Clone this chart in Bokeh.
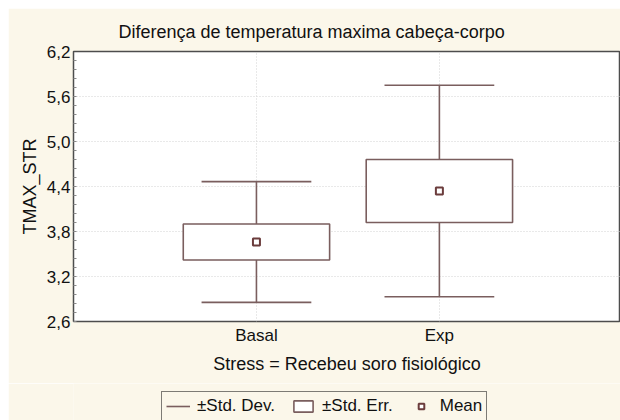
import numpy as np
from bokeh.plotting import figure
from bokeh.layouts import column
from bokeh.models import (Range1d, FixedTicker, CustomJSTickFormatter, Legend,
                          LegendItem, ColumnDataSource)
from bokeh.embed import file_html
from bokeh.resources import INLINE

# ---- data ----
groups = ["Basal", "Exp"]
means = [3.66, 4.34]
std_err = [0.24, 0.42]
std_dev = [0.805, 1.41]
y_ticks = [2.6, 3.2, 3.8, 4.4, 5.0, 5.6, 6.2]

title_text = "Diferença de temperatura maxima cabeça-corpo"
x_title = "Stress = Recebeu soro fisiológico"
y_title = "TMAX_STR"
legend_labels = ["±Std. Dev.", "±Std. Err.", "Mean"]

# ---- styling ----
FONT = "Liberation Sans"
LINE = "#7a5e5e"
MEAN_C = "#6b3c3c"
CREAM = "#fbf7ea"

xs = np.arange(1, len(groups) + 1)
m = np.array(means)
se = np.array(std_err)
sd = np.array(std_dev)
box_hw = 0.4
cap_hw = 0.3

src = ColumnDataSource(dict(
    x=xs, mean=m,
    se_lo=m - se, se_hi=m + se,
    sd_lo=m - sd, sd_hi=m + sd,
    left=xs - box_hw, right=xs + box_hw,
    cl=xs - cap_hw, cr=xs + cap_hw,
))

p = figure(width=612, height=375, output_backend="svg", toolbar_location=None,
           x_range=Range1d(0, 2.99), y_range=Range1d(2.6, 6.2),
           min_border_left=65, min_border_right=0, min_border_top=43,
           min_border_bottom=62,
           background_fill_color="white", border_fill_color=CREAM)
p.margin = (8, 0, 0, 8)

# title
p.title.text = title_text
p.title.align = "left"
p.title.offset = 45
p.title.standoff = 19
p.title.text_font = FONT
p.title.text_font_size = "18px"
p.title.text_font_style = "normal"
p.title.text_color = "#111111"

# frame
p.outline_line_color = "#4d4d4d"
p.outline_line_width = 1.5

# stems, caps, boxes, means
p.segment(x0="x", y0="sd_lo", x1="x", y1="sd_hi", source=src,
          line_color=LINE, line_width=1.6)
p.segment(x0="cl", y0="sd_hi", x1="cr", y1="sd_hi", source=src,
          line_color=LINE, line_width=1.6)
p.segment(x0="cl", y0="sd_lo", x1="cr", y1="sd_lo", source=src,
          line_color=LINE, line_width=1.6)
p.quad(left="left", right="right", bottom="se_lo", top="se_hi", source=src,
       fill_color="white", line_color=LINE, line_width=1.6)
p.scatter(x="x", y="mean", source=src, marker="square", size=7,
          fill_color="white", line_color=MEAN_C, line_width=2)

# axes
p.xaxis.ticker = FixedTicker(ticks=[int(v) for v in xs])
p.xaxis.major_label_overrides = {int(v): g for v, g in zip(xs, groups)}
p.yaxis.ticker = FixedTicker(ticks=y_ticks,
                             minor_ticks=list(np.arange(2.6, 6.21, 0.12)))
p.yaxis.formatter = CustomJSTickFormatter(code="return tick.toFixed(1).replace('.', ',');")

for ax in (p.xaxis[0], p.yaxis[0]):
    ax.axis_line_color = None
    ax.major_tick_out = 0
    ax.major_tick_in = 0
    ax.major_label_text_font = FONT
    ax.major_label_text_font_size = "17px"
    ax.major_label_text_color = "#111111"
    ax.axis_label_text_font = FONT
    ax.axis_label_text_font_size = "18px"
    ax.axis_label_text_font_style = "normal"
    ax.axis_label_text_color = "#111111"
p.xaxis.minor_tick_line_color = None
p.yaxis.minor_tick_in = 3
p.yaxis.minor_tick_out = 0
p.yaxis.minor_tick_line_color = "#8a8a8a"
p.yaxis.major_label_standoff = 3
p.xaxis.major_label_standoff = 4
p.xaxis.axis_label = x_title
p.yaxis.axis_label = y_title
p.xaxis.axis_label_standoff = 6
p.yaxis.axis_label_standoff = 4

# grids
p.xgrid.ticker = FixedTicker(ticks=[int(v) for v in xs])
p.ygrid.ticker = FixedTicker(ticks=y_ticks)
p.grid.grid_line_color = "#d2d2d2"
p.grid.grid_line_dash = "1 2"
p.grid.grid_line_width = 1

# ---- legend strip (separate small figure below the chart) ----
# its key glyphs reuse the same data, which lies outside this strip's view
lg = figure(width=612, height=37, output_backend="svg", toolbar_location=None,
            x_axis_type=None, y_axis_type=None,
            x_range=Range1d(10, 11), y_range=Range1d(10, 11), min_border=0,
            background_fill_color=CREAM, border_fill_color=CREAM)
lg.margin = (0, 0, 0, 8)
lg.outline_line_color = None
lg.grid.visible = False
k_sd = lg.segment(x0="cl", y0="sd_hi", x1="cr", y1="sd_hi", source=src,
                  line_color=LINE, line_width=1.6)
k_se = lg.quad(left="left", right="right", bottom="se_lo", top="se_hi", source=src,
               fill_color="white", line_color=LINE, line_width=1.6)
k_mean = lg.scatter(x="x", y="mean", source=src, marker="square", size=6,
                    fill_color="white", line_color=MEAN_C, line_width=2)
legend = Legend(items=[
    LegendItem(label=legend_labels[0], renderers=[k_sd], index=0),
    LegendItem(label=legend_labels[1], renderers=[k_se], index=0),
    LegendItem(label=legend_labels[2], renderers=[k_mean], index=0),
], orientation="horizontal", location=(88, -1),
    border_line_color="black", border_line_width=1.2,
    background_fill_alpha=0, padding=4, margin=0, spacing=16,
    glyph_width=24, glyph_height=14, label_standoff=7,
    label_text_font=FONT, label_text_font_size="17px", label_text_color="#111111")
lg.add_layout(legend, "center")

layout = column(p, lg, spacing=0)
open("out.html", "w").write(file_html(layout, INLINE))
